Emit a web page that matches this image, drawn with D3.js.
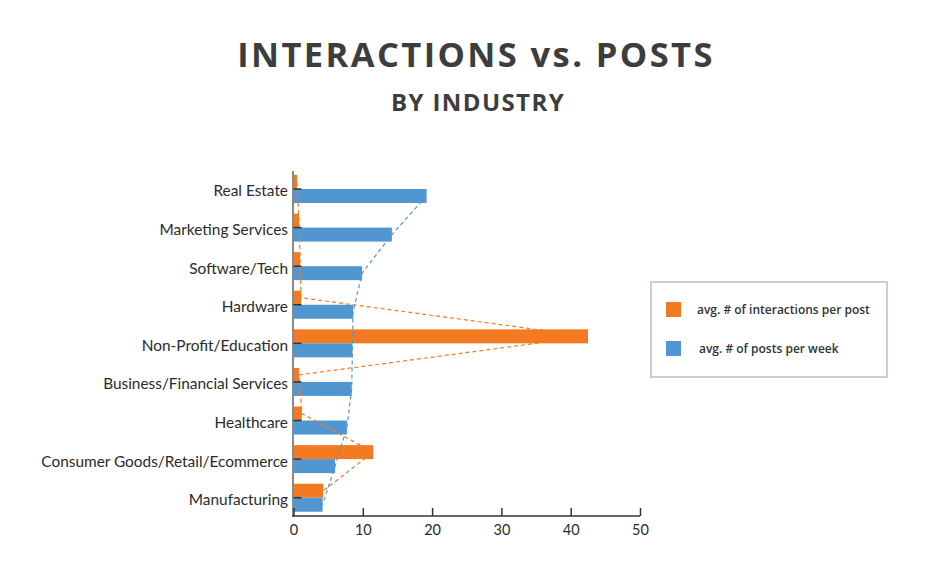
<!DOCTYPE html>
<html>
<head>
<meta charset="utf-8">
<script src="https://cdn.jsdelivr.net/npm/d3@7/dist/d3.min.js"></script>
<style>
  html, body { margin: 0; padding: 0; background: #fff; }
  svg { display: block; }
</style>
</head>
<body>
<svg id="chart" width="936" height="566"></svg>
<script>
const categories = [
  "Real Estate",
  "Marketing Services",
  "Software/Tech",
  "Hardware",
  "Non-Profit/Education",
  "Business/Financial Services",
  "Healthcare",
  "Consumer Goods/Retail/Ecommerce",
  "Manufacturing"
];
const interactionsPerPost = [0.5, 0.8, 0.95, 1.1, 42.5, 0.8, 1.2, 11.5, 4.3];
const postsPerWeek = [19.2, 14.2, 9.9, 8.6, 8.5, 8.4, 7.7, 6.0, 4.2];
const xTicks = [0, 10, 20, 30, 40, 50];
const seriesNames = ["avg. # of interactions per post", "avg. # of posts per week"];
const colors = ["#f47a22", "#5097d1"];

const svg = d3.select("#chart");
const font = "'Open Sans', sans-serif";
const labelFont = "Lato, 'Open Sans', sans-serif";

// Titles
svg.append("text")
  .attr("x", 476).attr("y", 67)
  .attr("text-anchor", "middle")
  .attr("font-family", font).attr("font-weight", 700)
  .attr("font-size", 34.5).attr("letter-spacing", 2.4)
  .attr("fill", "#3d3d3d")
  .text("INTERACTIONS vs. POSTS");
svg.append("text")
  .attr("x", 478).attr("y", 111)
  .attr("text-anchor", "middle")
  .attr("font-family", font).attr("font-weight", 700)
  .attr("font-size", 24).attr("letter-spacing", 1.4)
  .attr("fill", "#3d3d3d")
  .text("BY INDUSTRY");

// Scales
const x = d3.scaleLinear().domain([0, 50]).range([293.5, 640]);
const y = d3.scaleBand().domain(categories).range([169.7, 517]);
const bh = 14;
const cy = d => y(d) + y.bandwidth() / 2;

const g = svg.append("g");

// Bars
g.selectAll("rect.inter").data(categories).enter().append("rect")
  .attr("x", x(0))
  .attr("y", d => cy(d) - bh)
  .attr("width", (d, i) => x(interactionsPerPost[i]) - x(0))
  .attr("height", bh)
  .attr("fill", colors[0]);
g.selectAll("rect.posts").data(categories).enter().append("rect")
  .attr("x", x(0))
  .attr("y", d => cy(d))
  .attr("width", (d, i) => x(postsPerWeek[i]) - x(0))
  .attr("height", bh)
  .attr("fill", colors[1]);

// Dashed connector lines
const lineInter = d3.line()
  .x((d, i) => x(interactionsPerPost[i]))
  .y(d => cy(d) - bh / 2);
const linePosts = d3.line()
  .x((d, i) => x(postsPerWeek[i]))
  .y(d => cy(d) + bh / 2);
g.append("path").attr("d", lineInter(categories))
  .attr("fill", "none").attr("stroke", colors[0])
  .attr("stroke-width", 1.2).attr("stroke-dasharray", "4,3");
g.append("path").attr("d", linePosts(categories))
  .attr("fill", "none").attr("stroke", colors[1])
  .attr("stroke-width", 1.2).attr("stroke-dasharray", "4,3");

// Y axis (left line + inward ticks + labels)
g.append("line")
  .attr("x1", x(0) - 0.5).attr("x2", x(0) - 0.5)
  .attr("y1", 171).attr("y2", 517)
  .attr("stroke", "#8a8a8a").attr("stroke-width", 2);
g.selectAll("line.ytick").data(categories).enter().append("line")
  .attr("x1", x(0)).attr("x2", x(0) + 8)
  .attr("y1", d => cy(d)).attr("y2", d => cy(d))
  .attr("stroke", "#333").attr("stroke-width", 1.5);
g.selectAll("text.ylab").data(categories).enter().append("text")
  .attr("x", 288)
  .attr("y", d => cy(d) + 7.5)
  .attr("text-anchor", "end")
  .attr("font-family", labelFont).attr("font-size", 15.4)
  .attr("fill", "#2b2b2b")
  .text(d => d);

// X axis
const xAxis = d3.axisBottom(x).tickValues(xTicks).tickSize(-8).tickPadding(9);
const xg = svg.append("g").attr("transform", "translate(0,516)").call(xAxis);
xg.select(".domain").attr("stroke", "#333").attr("stroke-width", 1.5)
  .attr("d", `M${x(0) - 1},0H${x(50)}`);
xg.selectAll(".tick line").attr("stroke", "#333").attr("stroke-width", 1.5);
xg.selectAll(".tick text")
  .attr("font-family", labelFont).attr("font-size", 14.5)
  .attr("fill", "#2b2b2b");

// Legend
const lg = svg.append("g");
lg.append("rect")
  .attr("x", 651).attr("y", 282).attr("width", 236).attr("height", 95)
  .attr("fill", "#fff").attr("stroke", "#c9cdd5").attr("stroke-width", 2);
const ly = [309.5, 348.5];
const lx = [697, 699];
seriesNames.forEach((s, i) => {
  lg.append("rect")
    .attr("x", 666).attr("y", ly[i] - 7.5).attr("width", 15).attr("height", 15)
    .attr("fill", colors[i]);
  lg.append("text")
    .attr("x", lx[i]).attr("y", ly[i]).attr("dy", "0.35em")
    .attr("font-family", font).attr("font-size", 12).attr("font-weight", 600)
    .attr("fill", "#333")
    .text(s);
});
</script>
</body>
</html>
